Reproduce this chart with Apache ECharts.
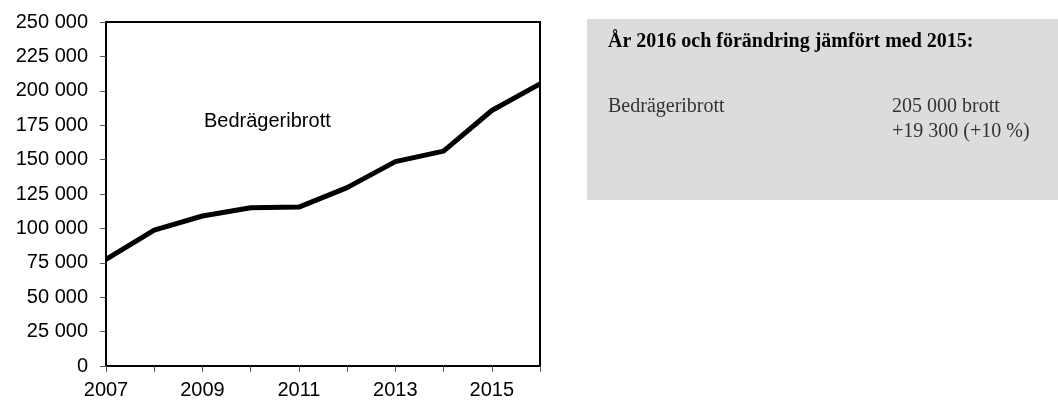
<!DOCTYPE html>
<html>
<head>
    <meta charset="utf-8">
    <title>Bedrägeribrott</title>
    <script src="https://cdn.jsdelivr.net/npm/echarts@6/dist/echarts.min.js"></script>
</head>
<body style="margin:0">
    <div id="main" style="width:1058px;height:400px;"></div>
    <script type="text/javascript">
        var years = ['2007', '2008', '2009', '2010', '2011', '2012', '2013', '2014', '2015', '2016'];
        var bedrageri = [77500, 98800, 109000, 115000, 115500, 129600, 148500, 156200, 185700, 205000];
        var seriesName = 'Bedrägeribrott';
        var boxTitle = 'År 2016 och förändring jämfört med 2015:';
        var boxLines = ['205 000 brott', '+19 300 (+10 %)'];

        var myChart = echarts.init(document.getElementById('main'));

        // 250 000 style thousands
        var fmt = function (v) {
            return String(v).replace(/\B(?=(\d{3})+(?!\d))/g, ' ');
        };
        var sans = '"Liberation Sans", Arial, sans-serif';
        var serif = '"Liberation Serif", "DejaVu Serif", serif';

        myChart.setOption({
            animation: false,
            grid: {
                left: 106, top: 22, width: 434, height: 344,
                show: true, borderColor: '#000', borderWidth: 2, backgroundColor: 'transparent'
            },
            xAxis: {
                type: 'category',
                data: years,
                boundaryGap: false,
                axisLine: { lineStyle: { color: '#000', width: 2 } },
                axisTick: { show: true, interval: 0, length: 6, lineStyle: { color: '#555' } },
                axisLabel: {
                    interval: 1, color: '#000', fontSize: 20, margin: 14,
                    fontFamily: sans
                },
                splitLine: { show: false }
            },
            yAxis: {
                type: 'value',
                min: 0, max: 250000, interval: 25000,
                axisLine: { show: true, lineStyle: { color: '#000', width: 2 } },
                axisTick: { show: true, length: 6, lineStyle: { color: '#555' } },
                axisLabel: {
                    color: '#000', fontSize: 20, margin: 18,
                    fontFamily: sans,
                    formatter: fmt
                },
                splitLine: { show: false }
            },
            series: [{
                name: seriesName,
                type: 'line',
                data: bedrageri,
                symbol: 'none',
                lineStyle: { color: '#000', width: 5 },
                z: 5
            }],
            graphic: [
                {
                    type: 'text', x: 204, y: 121,
                    style: { text: seriesName, fill: '#000', verticalAlign: 'middle', font: '20px ' + sans }
                },
                {
                    type: 'rect', left: 587, top: 19,
                    shape: { width: 471, height: 181 },
                    style: { fill: '#dcdcdc' }
                },
                {
                    type: 'text', x: 608, y: 42,
                    style: { text: boxTitle, fill: '#000', verticalAlign: 'middle', font: 'bold 20px ' + serif }
                },
                {
                    type: 'text', x: 608, y: 107,
                    style: { text: seriesName, fill: '#333', verticalAlign: 'middle', font: '20px ' + serif }
                },
                {
                    type: 'text', x: 892, y: 107,
                    style: { text: boxLines[0], fill: '#333', verticalAlign: 'middle', font: '20px ' + serif }
                },
                {
                    type: 'text', x: 892, y: 132,
                    style: { text: boxLines[1], fill: '#333', verticalAlign: 'middle', font: '20px ' + serif }
                }
            ]
        });
    </script>
</body>
</html>
